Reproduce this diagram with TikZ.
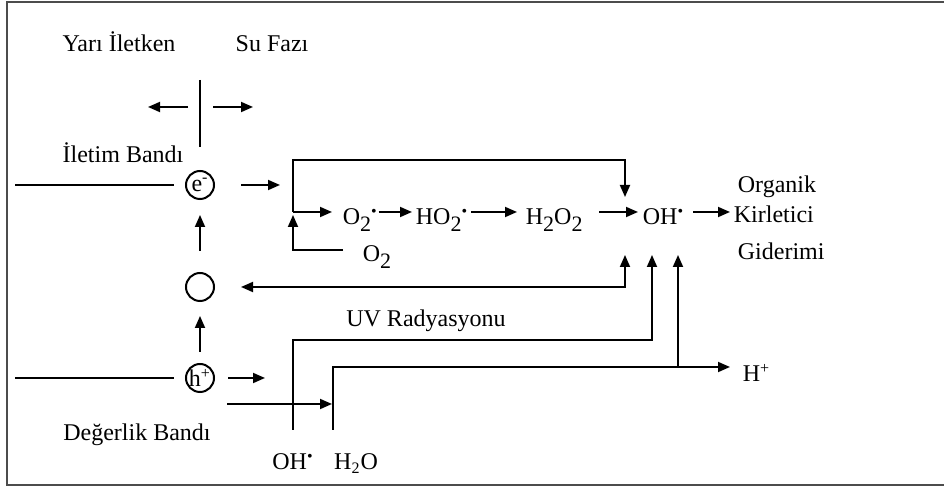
\documentclass[tikz,border=0pt]{standalone}
\usepackage{fontspec}
\setmainfont{Liberation Serif}
\usetikzlibrary{positioning,arrows.meta}

% full-size lowered index, as in the chain formulas
\newcommand{\dn}[1]{\raisebox{-3.5pt}{\fontsize{11}{12}\selectfont #1}}
\newcommand{\rad}{\textsuperscript{\textbullet}}

\begin{document}
\begin{tikzpicture}[
    x=0.5pt, y=-0.5pt,
    font=\fontsize{12}{14}\selectfont,
    line width=0.9pt,
    % plain labels, placed on their baseline
    lbl/.style={inner sep=0pt, anchor=base},
    chem/.style={inner sep=0pt, anchor=base west},
    % charge carriers sitting on the bands
    carrier/.style={draw, circle, line width=1pt, minimum size=14pt, inner sep=0pt},
    arr/.style={-{Triangle[length=6pt,width=5pt]}},
    darr/.style={{Triangle[length=6pt,width=5pt]}-{Triangle[length=6pt,width=5pt]}},
    frame/.style={draw=black!70, line width=1.4pt}
  ]
  \useasboundingbox (0,0) rectangle (944,491);

  % ===================== frame =====================
  \draw[frame] (944,2) -- (7,2) -- (7,485) -- (944,485);

  % ===================== phases and bands =====================
  \node[lbl] (yari)   at (119,52) {Yarı İletken};
  \node[lbl] (sufazi) at (272,52) {Su Fazı};

  \coordinate (divtop) at (200,80);
  \coordinate (divbot) at (200,147);
  \draw (divtop) -- (divbot);
  \coordinate (sltail) at (188,107);
  \coordinate (slhead) at (148,107);
  \coordinate (sutail) at (213,107);
  \coordinate (suhead) at (253,107);
  \draw[arr] (sltail) -- (slhead);
  \draw[arr] (sutail) -- (suhead);

  \node[lbl] (iletim)   at (123,163) {İletim Bandı};
  \node[lbl] (degerlik) at (137,441) {Değerlik Bandı};

  \node[carrier] (elec) at (200,185) {\makebox[0pt]{e\textsuperscript{-}}};
  \node[carrier] (bos)  at (200,287) {};
  \node[carrier] (hole) at (200,378) {\makebox[0pt]{h\textsuperscript{+}}};

  \coordinate (cbandL) at (15,185);
  \coordinate (vbandL) at (15,378);
  \draw[shorten >=5.5pt] (cbandL) -- (elec);
  \draw[shorten >=5.5pt] (vbandL) -- (hole);

  \draw[arr, shorten <=10.5pt, shorten >=7.5pt] (bos) -- (elec);
  \draw[arr, shorten <=5.5pt, shorten >=7pt] (hole) -- (bos);

  \coordinate (ehead) at (280,185);
  \coordinate (hhead) at (265,378);
  \draw[arr, shorten <=13pt] (elec) -- (ehead);
  \draw[arr, shorten <=6.5pt] (hole) -- (hhead);

  % ===================== reduction chain =====================
  \coordinate (chain) at (0,212);
  \node[chem] (o2r)  at (342,225) {O\dn{2}\rad};
  \node[chem] (ho2)  at (415,225) {HO\dn{2}\rad};
  \node[chem] (h2o2) at (525,225) {H\dn{2}O\dn{2}};
  \node[chem] (oh)   at (642,225) {OH\rad};
  \node[chem] (o2)   at (362,262) {O\dn{2}};

  \node[chem] (organik)   at (737,193) {Organik};
  \node[chem] (kirletici) at (733,223) {Kirletici};
  \node[chem] (giderimi)  at (737,260) {Giderimi};

  \draw[arr, shorten >=1.5pt] (o2r.east |- chain) -- (ho2.west |- chain);
  \draw[arr, shorten <=1pt, shorten >=4pt] (ho2.east |- chain) -- (h2o2.west |- chain);
  \draw[arr, shorten <=8pt, shorten >=2pt] (h2o2.east |- chain) -- (oh.west |- chain);
  \draw[arr, shorten <=4pt, shorten >=1.5pt] (oh.east |- chain) -- (kirletici.west |- chain);

  % feedback over the chain and O2 supply
  \coordinate (jx)     at (293,212);
  \coordinate (ktop)   at (293,160);
  \coordinate (kdown)  at (625,197);
  \coordinate (o2tail) at (343,250);
  \coordinate (jup)    at (293,215);
  \draw[arr] (jx) -- (ktop) -| (kdown);
  \draw[arr, shorten >=5pt] (jx) -- (o2r.west |- jx);
  \draw[arr] (o2tail) -| (jup);

  % hole side back to OH
  \coordinate (rett) at (625,255);
  \draw[darr, shorten <=13pt] (bos) -| (rett);

  % ===================== water side =====================
  \node[lbl] (uv)   at (426,327) {UV Radyasyonu};
  \node[lbl] (ohb)  at (293,470) {OH\rad};
  \node[lbl] (h2ob) at (356,470) {H\textsubscript{2}O};
  \node[chem] (hplus) at (742,382) {H\textsuperscript{+}};

  \coordinate (uvfoot) at (293,430);
  \coordinate (uvk)    at (652,340);
  \coordinate (uvt)    at (652,255);
  \draw[arr] (uvfoot) |- (uvk) -- (uvt);

  \coordinate (wfoot) at (333,430);
  \coordinate (hptip) at (730,367);
  \coordinate (hbr)   at (678,367);
  \coordinate (hbt)   at (678,255);
  \draw[arr] (wfoot) |- (hptip);
  \draw[arr] (hbr) -- (hbt);

  \coordinate (wl) at (227,404);
  \coordinate (wr) at (332,404);
  \draw[arr] (wl) -- (wr);

\end{tikzpicture}
\end{document}
